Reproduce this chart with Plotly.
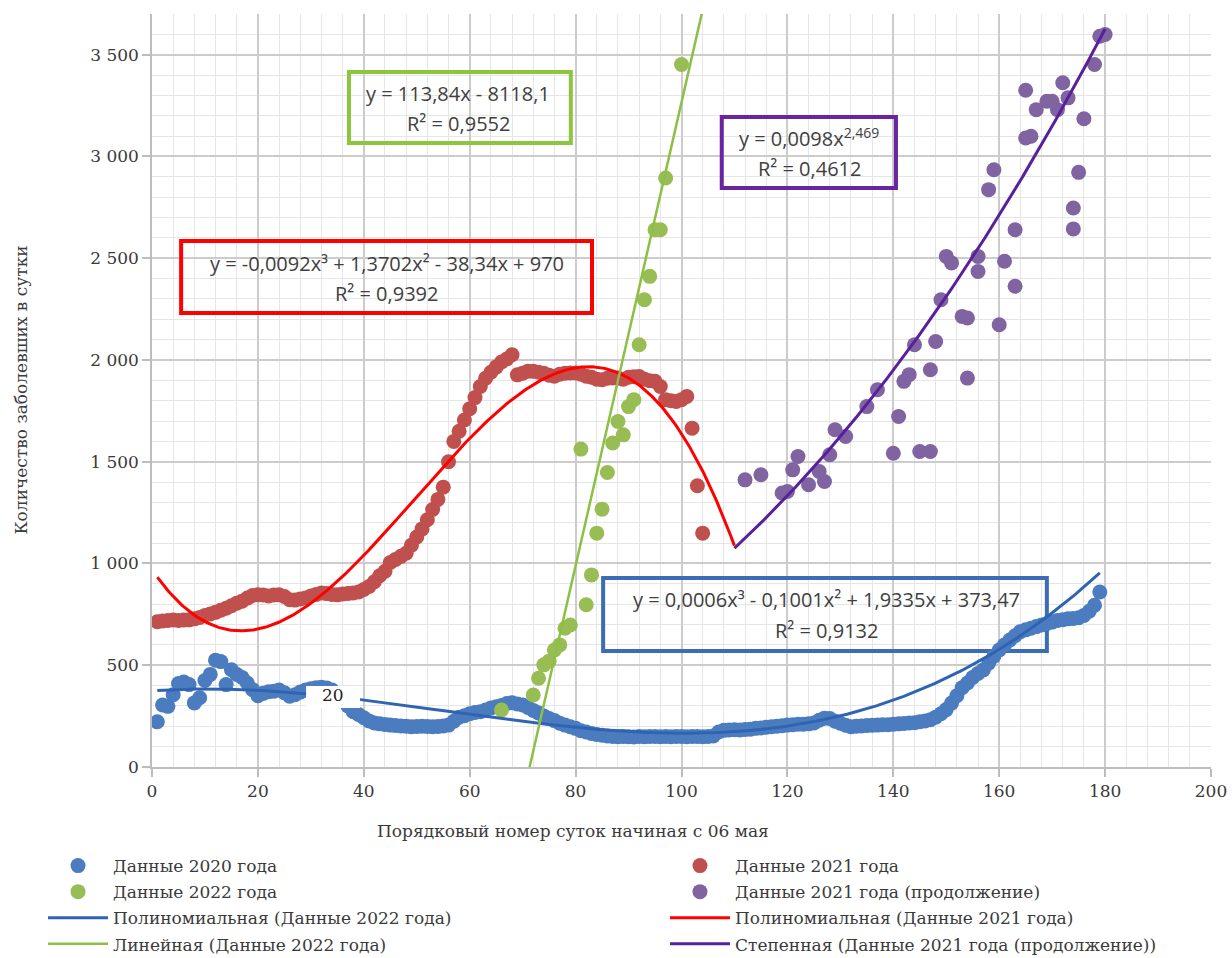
import numpy as np
import plotly.graph_objects as go

SERIF = "DejaVu Serif"
SANS = "Open Sans"
TEXT = "#3a3a3a"

# ---------------------------------------------------------------------------
# Daily new cases; x is the day number counted from 6 May
# ---------------------------------------------------------------------------
days_2020 = list(range(1, 180))
cases_2020 = [
    222, 305, 298, 355, 410, 418, 405, 315, 340, 425,
    455, 525, 518, 405, 478, 455, 440, 413, 380, 350,
    362, 370, 372, 378, 365, 348, 355, 368, 378, 385,
    390, 392, 388, 378, 355, 330, 300, 272, 258, 242,
    226, 216, 212, 209, 206, 204, 202, 200, 198, 199,
    200, 199, 198, 199, 202, 206, 225, 245, 252, 262,
    268, 272, 280, 290, 296, 302, 312, 316, 310, 305,
    292, 278, 265, 250, 238, 228, 215, 206, 198, 190,
    178, 172, 165, 160, 156, 152, 150, 149, 150, 149,
    148, 150, 149, 150, 150, 149, 150, 149, 150, 150,
    149, 150, 150, 149, 150, 152, 172, 180, 182, 183,
    182, 184, 186, 190, 192, 195, 198, 200, 203, 206,
    208, 210, 210, 212, 216, 230, 240, 238, 225, 215,
    205, 198, 200, 202, 204, 205, 206, 208, 208, 210,
    212, 214, 216, 218, 222, 226, 232, 245, 262, 282,
    314, 350, 390, 413, 440, 460, 477, 510, 545, 575,
    600, 624, 645, 665, 674, 682, 690, 698, 705, 712,
    720, 724, 728, 730, 733, 745, 765, 795, 860,
]

days_2021 = list(range(1, 105))
cases_2021 = [
    714, 718, 720, 722, 720, 722, 723, 728, 735, 745,
    752, 760, 770, 780, 792, 805, 815, 830, 843, 846,
    845, 840, 845, 846, 838, 822, 820, 826, 831, 840,
    848, 855, 852, 848, 846, 850, 853, 855, 860, 872,
    887, 910, 940, 962, 1005, 1020, 1035, 1050, 1090, 1130,
    1170, 1215, 1265, 1315, 1375, 1500, 1600, 1650, 1705, 1760,
    1815, 1870, 1910, 1940, 1965, 1990, 2005, 2026, 1927, 1935,
    1945, 1944, 1940, 1935, 1925, 1920, 1930, 1935, 1936, 1936,
    1930, 1920, 1915, 1905, 1903, 1910, 1912, 1911, 1905, 1915,
    1918, 1919, 1905, 1898, 1895, 1870, 1805, 1800, 1796, 1805,
    1821, 1665, 1382, 1149,
]

days_2021_cont = [
    112, 115, 119, 120, 121, 122, 124, 126, 127, 128,
    129, 131, 135, 137, 140, 141, 142, 143, 144, 145,
    147, 147, 148, 149, 150, 151, 153, 154, 154, 156,
    156, 158, 159, 160, 161, 163, 163, 165, 165, 166,
    167, 169, 170, 171, 172, 173, 174, 174, 175, 176,
    178, 179, 180,
]
cases_2021_cont = [
    1411, 1436, 1346, 1354, 1460, 1526, 1387, 1452, 1403, 1534,
    1657, 1624, 1771, 1854, 1542, 1722, 1895, 1928, 2075, 1550,
    1550, 1952, 2091, 2296, 2509, 2477, 2214, 1911, 2206, 2435,
    2509, 2837, 2935, 2173, 2485, 2362, 2640, 3091, 3325, 3099,
    3230, 3271, 3271, 3230, 3362, 3288, 2644, 2747, 2922, 3185,
    3452, 3591, 3599,
]

days_2022 = [
    66, 72, 73, 74, 75, 76, 77, 78, 79, 81,
    82, 83, 84, 85, 86, 87, 88, 89, 90, 91,
    92, 93, 94, 95, 96, 97, 100,
]
cases_2022 = [
    280, 354, 436, 502, 520, 575, 600, 682, 698, 1562,
    797, 944, 1149, 1267, 1447, 1592, 1698, 1632, 1771, 1805,
    2075, 2296, 2411, 2640, 2640, 2894, 3452,
]

# Trendline coefficients, as printed in the equation boxes
poly_2020 = [0.0006, -0.1001, 1.9335, 373.47]
poly_2021 = [-0.0092, 1.3702, -38.34, 970]
lin_2022 = [113.84, -8118.1]
pow_2021_cont = [0.0098, 2.469]

x_ticks = list(range(0, 201, 20))
y_ticks = list(range(0, 3501, 500))

# ---------------------------------------------------------------------------
# Trendline curves
# ---------------------------------------------------------------------------
tx_2020 = np.linspace(days_2020[0], days_2020[-1], 400)
ty_2020 = np.polyval(poly_2020, tx_2020)
tx_2021 = np.linspace(days_2021[0], 110, 400)          # 6-day forward forecast
ty_2021 = np.polyval(poly_2021, tx_2021)
tx_2022 = np.linspace(days_2022[0], 106, 200)
ty_2022 = np.polyval(lin_2022, tx_2022)
tx_cont = np.linspace(110, days_2021_cont[-1], 300)   # 2-day backward forecast
ty_cont = pow_2021_cont[0] * tx_cont ** pow_2021_cont[1]

C_BLUE_PT, C_BLUE_LN = "#4a7cbf", "#2f64b2"
C_RED_PT, C_RED_LN = "#c0504d", "#ff0000"
C_GREEN_PT, C_GREEN_LN = "#98bd55", "#8cc044"
C_PURP_PT, C_PURP_LN = "#8064a2", "#58209c"


def points(x, y, name, color, legend):
    return go.Scatter(
        x=x, y=y, mode="markers", name=name, legend=legend, legendgroup=name,
        marker=dict(size=15, color=color, line=dict(width=0)),
        hoverinfo="x+y+name",
    )


def trend(x, y, name, color, width, legend):
    return go.Scatter(
        x=x, y=y, mode="lines", name=name, legend=legend, legendgroup=name,
        line=dict(color=color, width=width), hoverinfo="skip",
    )


fig = go.Figure()
fig.add_trace(points(days_2020, cases_2020, "Данные 2020 года", C_BLUE_PT, "legend"))
fig.add_trace(points(days_2021, cases_2021, "Данные 2021 года", C_RED_PT, "legend2"))
fig.add_trace(points(days_2022, cases_2022, "Данные 2022 года", C_GREEN_PT, "legend"))
fig.add_trace(points(days_2021_cont, cases_2021_cont,
                     "Данные 2021 года (продолжение)", C_PURP_PT, "legend2"))
fig.add_trace(trend(tx_2020, ty_2020, "Полиномиальная (Данные 2022 года)",
                    C_BLUE_LN, 3, "legend"))
fig.add_trace(trend(tx_2021, ty_2021, "Полиномиальная (Данные 2021 года)",
                    C_RED_LN, 3, "legend2"))
fig.add_trace(trend(tx_2022, ty_2022, "Линейная (Данные 2022 года)",
                    C_GREEN_LN, 2.5, "legend"))
fig.add_trace(trend(tx_cont, ty_cont, "Степенная (Данные 2021 года (продолжение))",
                    C_PURP_LN, 3, "legend2"))

# ---------------------------------------------------------------------------
# Equation boxes (outline only, drawn between the grid and the markers)
# ---------------------------------------------------------------------------
boxes = [
    # x0, x1, y0, y1, colour, line1, line2, x-centre, y line1, y line2
    (37.2, 79.1, 3066, 3415, "#8cc63f",
     "y = 113,84x - 8118,1", "R² = 0,9552", 57.8, 3307, 3164),
    (5.5, 83.1, 2231, 2585, "#ff0000",
     "y = -0,0092x³ + 1,3702x² - 38,34x + 970", "R² = 0,9392", 44.3, 2476, 2329),
    (107.6, 140.5, 2845, 3194, "#6a24a0",
     "y = 0,0098x<sup>2,469</sup>", "R² = 0,4612", 124.1, 3091, 2943),
    (85.2, 169.0, 570, 929, "#3b6cb4",
     "y = 0,0006x³ - 0,1001x² + 1,9335x + 373,47", "R² = 0,9132", 127.3, 821, 673),
]
for x0, x1, y0, y1, col, l1, l2, xc, yl1, yl2 in boxes:
    fig.add_shape(type="rect", xref="x", yref="y", x0=x0, x1=x1, y0=y0, y1=y1,
                  line=dict(color=col, width=4), fillcolor="rgba(0,0,0,0)",
                  layer="between")
    for txt, yy in ((l1, yl1), (l2, yl2)):
        fig.add_annotation(x=xc, y=yy, xref="x", yref="y", text=txt, showarrow=False,
                           xanchor="center", yanchor="middle",
                           font=dict(family=SANS, size=20, color="#404040"))

# white label patch with "20" lying over the 2020 series
fig.add_shape(type="rect", xref="x", yref="y", x0=29.1, x1=39.3, y0=290, y1=398,
              line=dict(width=0), fillcolor="white", layer="above")
fig.add_annotation(x=34.2, y=352, xref="x", yref="y", text="20", showarrow=False,
                   xanchor="center", yanchor="middle",
                   font=dict(family=SERIF, size=17, color="#222222"))

# axis titles
fig.add_annotation(x=-0.1246, y=0.5, xref="paper", yref="paper",
                   text="Количество заболевших в сутки", textangle=-90,
                   showarrow=False, xanchor="center", yanchor="middle",
                   font=dict(family=SERIF, size=17, color=TEXT))
fig.add_annotation(x=0.3975, y=-0.085, xref="paper", yref="paper",
                   text="Порядковый номер суток начиная с 06 мая",
                   showarrow=False, xanchor="center", yanchor="middle",
                   font=dict(family=SERIF, size=17, color=TEXT))

axis_common = dict(
    showgrid=True, gridcolor="#cccccc", gridwidth=1.5,
    showline=True, linecolor="#bdbdbd", linewidth=1.5,
    ticks="outside", ticklen=8, tickcolor="#bdbdbd", tickwidth=1.5,
    zeroline=False, tickfont=dict(family=SERIF, size=17, color=TEXT),
)

legend_common = dict(
    orientation="v", xanchor="left", yanchor="top", y=-0.1076,
    traceorder="grouped", tracegroupgap=1, itemwidth=60,
    bgcolor="rgba(0,0,0,0)", borderwidth=0,
    font=dict(family=SERIF, size=17, color=TEXT),
)

fig.update_layout(
    width=1232, height=958,
    margin=dict(l=152, r=21, t=14, b=191, autoexpand=False),
    paper_bgcolor="white", plot_bgcolor="white",
    font=dict(family=SERIF, size=17, color=TEXT),
    separators=", ",
    showlegend=True,
    legend=dict(x=-0.1029, **legend_common),
    legend2=dict(x=0.4844, **legend_common),
    xaxis=dict(range=[0, 200], tickvals=x_ticks,
               minor=dict(dtick=4, tick0=0, showgrid=True, gridcolor="#e6e6e6", gridwidth=1),
               **axis_common),
    yaxis=dict(range=[0, 3700], tickvals=y_ticks, tickformat=",d",
               minor=dict(dtick=100, tick0=0, showgrid=True, gridcolor="#e6e6e6", gridwidth=1),
               **axis_common),
)

fig.write_html("out.html")
